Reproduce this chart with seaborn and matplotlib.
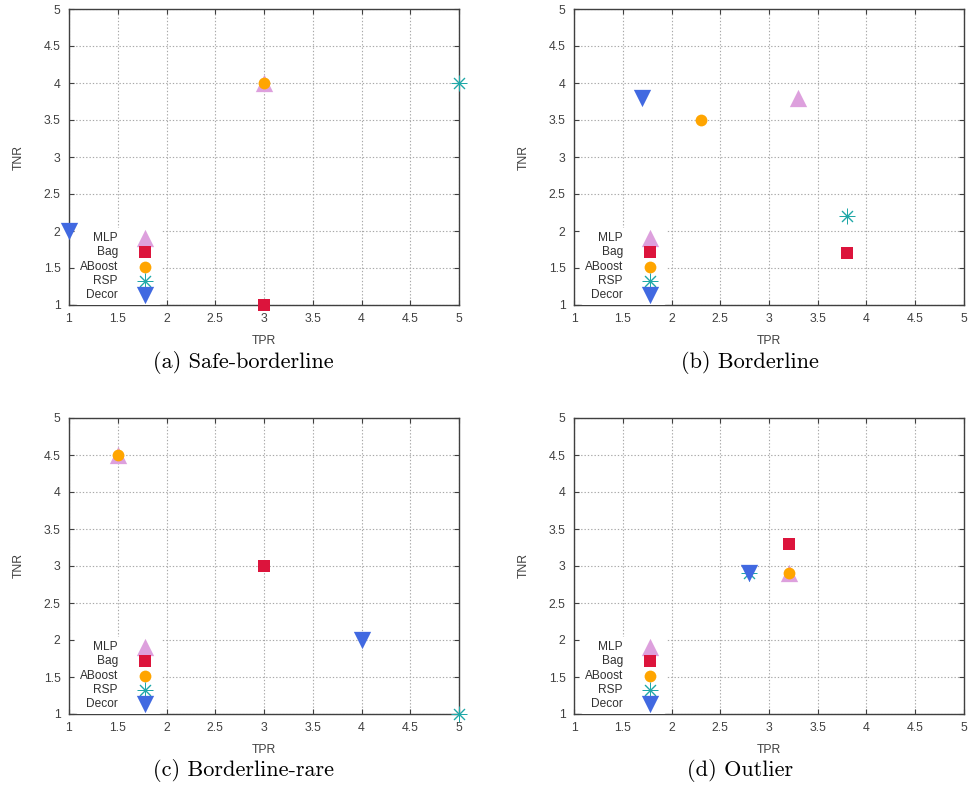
import matplotlib
matplotlib.use("Agg")
import matplotlib.pyplot as plt
import seaborn as sns
import pandas as pd

sns.set_style("white")
plt.rcParams['font.family'] = ['Liberation Sans', 'DejaVu Sans']

methods = ["MLP", "Bag", "ABoost", "RSP", "Decor"]
panels = ["(a) Safe-borderline", "(b) Borderline", "(c) Borderline-rare", "(d) Outlier"]

tpr_safe = [3.0, 3.0, 3.0, 5.0, 1.0]
tnr_safe = [4.0, 1.0, 4.0, 4.0, 2.0]
tpr_border = [3.3, 3.8, 2.3, 3.8, 1.7]
tnr_border = [3.8, 1.7, 3.5, 2.2, 3.8]
tpr_rare = [1.5, 3.0, 1.5, 5.0, 4.0]
tnr_rare = [4.5, 3.0, 4.5, 1.0, 2.0]
tpr_outlier = [3.2, 3.2, 3.2, 2.8, 2.8]
tnr_outlier = [2.9, 3.3, 2.9, 2.9, 2.9]

ticks = [1, 1.5, 2, 2.5, 3, 3.5, 4, 4.5, 5]
tick_labels = ["1", "1.5", "2", "2.5", "3", "3.5", "4", "4.5", "5"]

colors = {"MLP": "#DDA0DD", "Bag": "#DC143C", "ABoost": "#FFA500",
          "RSP": "#20A8A8", "Decor": "#4169E1"}
markers = {"MLP": "^", "Bag": "s", "ABoost": "o", "RSP": (8, 2, 0), "Decor": "v"}
sizes = {"MLP": 155, "Bag": 80, "ABoost": 72, "RSP": 115, "Decor": 155}

data = {
    panels[0]: (tpr_safe, tnr_safe),
    panels[1]: (tpr_border, tnr_border),
    panels[2]: (tpr_rare, tnr_rare),
    panels[3]: (tpr_outlier, tnr_outlier),
}

W, H = 968, 789
fig = plt.figure(figsize=(W / 100, H / 100), dpi=100)

boxes = [
    (69, 9, 459, 305),
    (574, 9, 964, 305),
    (69, 418, 459, 714),
    (574, 418, 964, 714),
]
captions_pos = [(243, 362), (750, 362), (243, 771), (740, 771)]

for i, panel in enumerate(panels):
    x0, y0, x1, y1 = boxes[i]
    ax = fig.add_axes([x0 / W, 1 - y1 / H, (x1 - x0) / W, (y1 - y0) / H])
    tpr, tnr = data[panel]
    df = pd.DataFrame({"method": methods, "TPR": tpr, "TNR": tnr})
    for m in methods:
        sub = df[df["method"] == m]
        kw = dict(linewidth=0) if m != "RSP" else dict(linewidth=0.7)
        sns.scatterplot(data=sub, x="TPR", y="TNR", marker=markers[m],
                        color=colors[m], s=sizes[m], label=m, ax=ax,
                        clip_on=False, zorder=5, **kw)
    ax.set_xlim(1, 5)
    ax.set_ylim(1, 5)
    ax.set_xticks(ticks)
    ax.set_xticklabels(tick_labels)
    ax.set_yticks(ticks)
    ax.set_yticklabels(tick_labels)
    ax.grid(True, color="#a8a8a8", linestyle=(0, (1.2, 1.8)), linewidth=0.8)
    ax.set_axisbelow(True)
    for s in ax.spines.values():
        s.set_color("#404040")
        s.set_linewidth(1.0)
        s.set_visible(True)
    ax.tick_params(axis="both", direction="in", length=3.5, width=0.8,
                   color="#404040", labelsize=8.8, labelcolor="#404040",
                   top=True, right=True, bottom=True, left=True, pad=6)
    ax.set_xlabel("TPR", fontsize=8.8, color="#404040", labelpad=7)
    ax.set_ylabel("TNR", fontsize=8.8, color="#404040", labelpad=14)
    handles, labels = ax.get_legend_handles_labels()
    leg = ax.legend(handles, labels, loc="lower left", bbox_to_anchor=(0.018, 0.0),
                    markerfirst=False, frameon=True, fontsize=8.6,
                    handlelength=2.0, handletextpad=1.3, labelspacing=0.2,
                    borderpad=0.3, borderaxespad=0.0, scatterpoints=1)
    fr = leg.get_frame()
    fr.set_facecolor("white")
    fr.set_edgecolor("none")
    fr.set_alpha(1.0)
    for t in leg.get_texts():
        t.set_color("#303030")
    leg.set_zorder(4)
    cx, cy = captions_pos[i]
    fig.text(cx / W, 1 - cy / H, panel, ha="center", va="center",
             fontsize=16, family="cmr10", color="black")

fig.savefig("out.png", dpi=100)
